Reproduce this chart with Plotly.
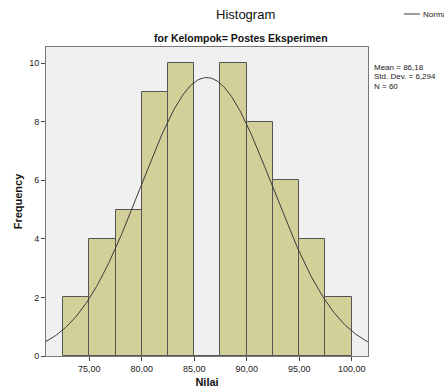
import numpy as np
import plotly.graph_objects as go

bin_left = [72.5, 75.0, 77.5, 80.0, 82.5, 85.0, 87.5, 90.0, 92.5, 95.0, 97.5]
frequency = [2, 4, 5, 9, 10, 0, 10, 8, 6, 4, 2]
bin_width = 2.5
mean_val = 86.18
std_val = 6.294
n_val = 60
x_ticks = [75, 80, 85, 90, 95, 100]
y_ticks = [0, 2, 4, 6, 8, 10]
stats_lines = ["Mean = 86,18", "Std. Dev. = 6,294", "N = 60"]

W, H = 444, 391
L, R, T, B = 46, 76, 47, 35
PW, PH = W - L - R, H - T - B

def px(x):
    return (x - L) / PW

def py(y):
    return (H - B - y) / PH

centers = [b + bin_width / 2 for b in bin_left]
xs = np.linspace(70.88, 101.55, 300)
ys = n_val * bin_width / (std_val * np.sqrt(2 * np.pi)) * np.exp(-0.5 * ((xs - mean_val) / std_val) ** 2)

fig = go.Figure()
fig.add_trace(go.Bar(x=centers, y=frequency, width=bin_width,
                     marker=dict(color="#D3CF99", line=dict(color="#555555", width=1)),
                     showlegend=False, hoverinfo="skip"))
fig.add_trace(go.Scatter(x=xs, y=ys, mode="lines", line=dict(color="#3a3a3a", width=1),
                         name="Normal", showlegend=False))

font_fam = "Liberation Sans, Arial, sans-serif"
annotations = [
    dict(text="Histogram", x=px(246), y=py(15), showarrow=False,
         font=dict(size=13, color="#111")),
    dict(text="<b>for Kelompok= Postes Eksperimen</b>", x=px(241), y=py(38), showarrow=False,
         font=dict(size=10.5, color="#111")),
    dict(text="Normal", x=px(421), y=py(14), showarrow=False, xanchor="left",
         font=dict(size=8, color="#222")),
]
for i, t in enumerate(stats_lines):
    annotations.append(dict(text=t, x=px(372), y=py(68 + 9 * i), showarrow=False,
                            xanchor="left", font=dict(size=8, color="#222")))
for a in annotations:
    a["xref"] = "paper"
    a["yref"] = "paper"
    a["yanchor"] = "middle"

fig.update_layout(
    width=W, height=H,
    margin=dict(l=L, r=R, t=T, b=B),
    paper_bgcolor="white", plot_bgcolor="#F0F0F0",
    separators=",.",
    font=dict(family=font_fam, size=9, color="#222"),
    bargap=0,
    xaxis=dict(range=[70.88, 101.55], tickvals=x_ticks, tickformat=".2f", automargin=False,
               ticks="outside", ticklen=4, tickcolor="#444", showgrid=False, zeroline=False,
               showline=True, linecolor="#777", mirror=True, linewidth=1,
               title=dict(text="<b>Nilai</b>", font=dict(size=11, color="#111"), standoff=5)),
    yaxis=dict(range=[0, 10.55], tickvals=y_ticks, ticks="outside", ticklen=4, tickcolor="#444",
               automargin=False,
               showgrid=False, zeroline=False, showline=True, linecolor="#777", mirror=True, linewidth=1,
               title=dict(text="<b>Frequency</b>", font=dict(size=11, color="#111"), standoff=4)),
    annotations=annotations,
    shapes=[dict(type="line", xref="paper", yref="paper", x0=px(404), x1=px(420),
                 y0=py(14), y1=py(14), line=dict(color="#3a3a3a", width=1))],
)
fig.write_html("out.html")
